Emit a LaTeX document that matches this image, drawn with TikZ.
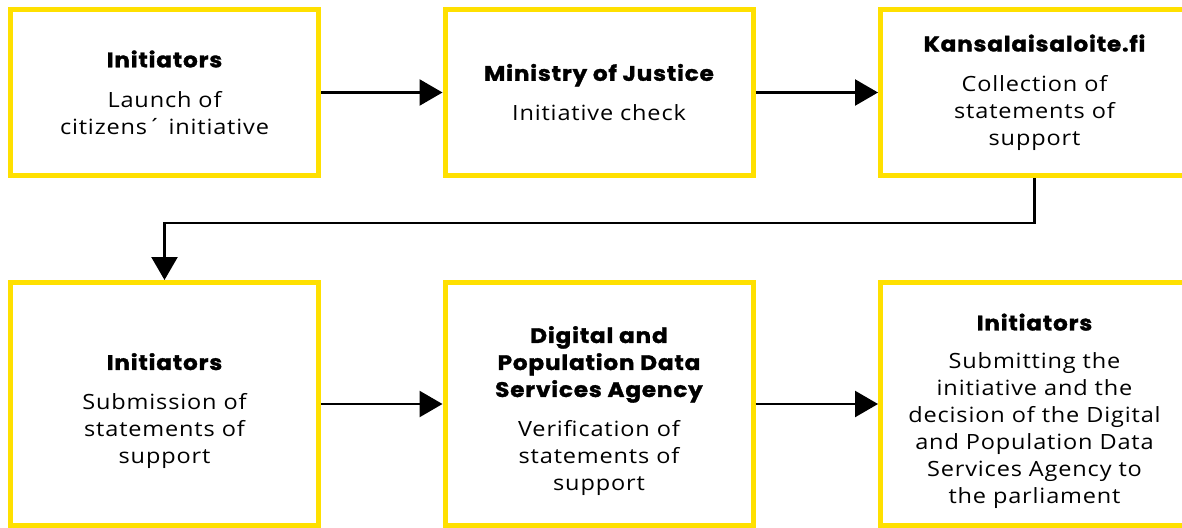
\documentclass[tikz,border=0pt]{standalone}
\usepackage{fontspec}
\setmainfont{Open Sans}[FakeStretch=1.12,LetterSpace=4]
\newfontfamily\headfont{Poppins}[BoldFeatures={FakeStretch=1.1,FakeBold=1.5,LetterSpace=4}]
\usepackage{tikz}
\usetikzlibrary{arrows.meta}
\definecolor{boxyellow}{RGB}{255,224,0}
\tikzset{
  stepbox/.style={draw=boxyellow, line width=5pt, minimum width=308pt, inner sep=0pt, align=center, font=\fontsize{21}{27}\selectfont},
  toprow/.style={stepbox, minimum height=166pt},
  lowrow/.style={stepbox, minimum height=243pt},
  flow/.style={line width=2.5pt, -{Triangle[length=23pt,width=26pt]}}
}
\newcommand{\hl}[1]{{\headfont\bfseries #1}}
\newcommand{\lowpad}{\rule{0pt}{31pt}}

\begin{document}
\begin{tikzpicture}[x=1pt,y=-1pt]
\useasboundingbox (0,0) rectangle (1182,527);
\node[toprow] (init) at (164.5,92.5) {\hl{Initiators}\\[13pt]Launch of\\citizens´ initiative};
\node[toprow] (ministry) at (599,92.5) {\hl{Ministry of Justice}\\[13pt]Initiative check};
\node[toprow] (kansa) at (1034.5,92.5) {\hl{Kansalaisaloite.fi}\\[13pt]Collection of\\statements of\\support};
\node[lowrow] (submit) at (164.5,404) {\lowpad\hl{Initiators}\\[13pt]Submission of\\statements of\\support};
\node[lowrow] (dvv) at (599,404) {\lowpad\hl{Digital and}\\\hl{Population Data}\\\hl{Services Agency}\\[13pt]Verification of\\statements of\\support};
\node[lowrow] (parl) at (1034.5,404) {\lowpad\hl{Initiators}\\[11pt]Submitting the\\initiative and the\\decision of the Digital\\and Population Data\\Services Agency to\\the parliament};
\draw[flow] (init) -- (ministry);
\draw[flow] (ministry) -- (kansa);
\draw[flow] (kansa.south) -- ++(0,45) -| (submit.north);
\draw[flow] (submit) -- (dvv);
\draw[flow] (dvv) -- (parl);
\end{tikzpicture}
\end{document}
